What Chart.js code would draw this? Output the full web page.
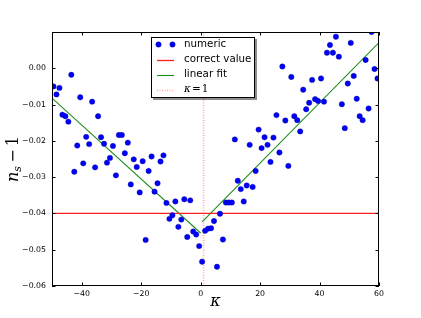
<!DOCTYPE html>
<html>
<head>
<meta charset="utf-8">
<script src="https://cdn.jsdelivr.net/npm/chart.js@4"></script>
<style>
  html, body { margin: 0; padding: 0; background: #fff; }
  canvas { display: block; }
</style>
</head>
<body>
<canvas id="chart" width="421" height="318"></canvas>
<script>
// values
const kappa = [
  -49.5, -48.5, -47.5, -46.5, -45.5, -44.5, -43.5, -42.5, -41.5, -40.5,
  -39.5, -38.5, -37.5, -36.5, -35.5, -34.5, -33.5, -32.5, -31.5, -30.5,
  -29.5, -28.5, -27.5, -26.5, -25.5, -24.5, -23.5, -22.5, -21.5, -20.5,
  -19.5, -18.5, -17.5, -16.5, -15.5, -14.5, -13.5, -12.5, -11.5, -10.5,
  -9.5, -8.5, -7.5, -6.5, -5.5, -4.5, -3.5, -2.5, -1.5, -0.5,
  0.5, 1.5, 2.5, 3.5, 4.5, 5.5, 6.5, 7.5, 8.5, 9.5,
  10.5, 11.5, 12.5, 13.5, 14.5, 15.5, 16.5, 17.5, 18.5, 19.5,
  20.5, 21.5, 22.5, 23.5, 24.5, 25.5, 26.5, 27.5, 28.5, 29.5,
  30.5, 31.5, 32.5, 33.5, 34.5, 35.5, 36.5, 37.5, 38.5, 39.5,
  40.5, 41.5, 42.5, 43.5, 44.5, 45.5, 46.5, 47.5, 48.5, 49.5,
  50.5, 51.5, 52.5, 53.5, 54.5, 55.5, 56.5, 57.5, 58.5, 59.5
];
const nsMinusOne = [
  -0.0050, -0.0072, -0.0054, -0.0128, -0.0132, -0.0147, -0.0018, -0.0285, -0.0213, -0.0080,
  -0.0262, -0.0189, -0.0209, -0.0092, -0.0273, -0.0132, -0.0190, -0.0208, -0.0260, -0.0247,
  -0.0214, -0.0295, -0.0184, -0.0184, -0.0234, -0.0205, -0.0320, -0.0251, -0.0272, -0.0342,
  -0.0256, -0.0473, -0.0283, -0.0243, -0.0340, -0.0317, -0.0257, -0.0240, -0.0371, -0.0415,
  -0.0405, -0.0367, -0.0437, -0.0417, -0.0361, -0.0465, -0.0364, -0.0450, -0.0458, -0.0490,
  -0.0533, -0.0448, -0.0442, -0.0441, -0.0421, -0.0547, -0.0401, -0.0472, -0.0370, -0.0370,
  -0.0370, -0.0196, -0.0310, -0.0333, -0.0367, -0.0323, -0.0211, -0.0327, -0.0283, -0.0169,
  -0.0220, -0.0190, -0.0211, -0.0258, -0.0191, -0.0129, -0.0232, 0.0005, -0.0144, -0.0269,
  -0.0024, -0.0132, -0.0143, -0.0174, -0.0059, -0.0113, -0.0095, -0.0032, -0.0085, -0.0090,
  -0.0028, -0.0092, 0.0043, 0.0064, 0.0043, 0.0087, 0.0032, -0.0099, -0.0165, -0.0042,
  0.0070, -0.0021, -0.0084, -0.0132, -0.0143, 0.0023, -0.0111, 0.0100, -0.0002, -0.0028
];
const fitLeftX = [-50, 0];
const fitLeftY = [-0.0082, -0.0454];
const fitRightX = [0.5, 60];
const fitRightY = [-0.0423, 0.0071];
const correctValue = -0.04;
const kappaMark = 1;
const xRange = [-50, 60];
const yRange = [-0.06, 0.01];
const xTicks = [-40, -20, 0, 20, 40, 60];
const yTicks = [-0.06, -0.05, -0.04, -0.03, -0.02, -0.01, 0.00, 0.01];

const pts = (xs, ys) => xs.map((x, i) => ({ x: x, y: ys[i] }));
const minus = (s) => s.replace('-', '\u2212');

// frame, inward ticks, axis titles and the boxed legend
const decor = {
  id: 'decor',
  afterDatasetsDraw(chart) {
    const { ctx, chartArea: a, scales: { x, y } } = chart;
    ctx.save();
    ctx.strokeStyle = '#000';
    ctx.lineWidth = 1;
    ctx.beginPath();
    xTicks.forEach(v => {
      const px = Math.round(x.getPixelForValue(v)) + 0.5;
      ctx.moveTo(px, a.bottom); ctx.lineTo(px, a.bottom - 3.5);
      ctx.moveTo(px, a.top); ctx.lineTo(px, a.top + 3.5);
    });
    yTicks.forEach(v => {
      const py = Math.round(y.getPixelForValue(v)) + 0.5;
      ctx.moveTo(a.left, py); ctx.lineTo(a.left + 3.5, py);
      ctx.moveTo(a.right, py); ctx.lineTo(a.right - 3.5, py);
    });
    ctx.stroke();
    ctx.strokeRect(a.left + 0.5, a.top + 0.5, a.right - a.left - 1, a.bottom - a.top - 1);
    ctx.restore();
  },
  afterDraw(chart) {
    const { ctx, chartArea: a } = chart;
    ctx.save();
    ctx.fillStyle = '#000';
    ctx.textBaseline = 'alphabetic';

    // x title
    ctx.font = 'italic 16px "DejaVu Serif"';
    ctx.textAlign = 'center';
    ctx.fillText('\u03ba', (a.left + a.right) / 2, 306);

    // y title: n_s - 1
    ctx.translate(18, (a.top + a.bottom) / 2);
    ctx.rotate(-Math.PI / 2);
    ctx.textAlign = 'left';
    const big = 'italic 16px "DejaVu Serif"', small = 'italic 11px "DejaVu Serif"', reg = '16px "DejaVu Serif"';
    ctx.font = big; const wn = ctx.measureText('n').width;
    ctx.font = small; const ws = ctx.measureText('s').width;
    ctx.font = reg; const wr = ctx.measureText('\u2009\u2212\u20091').width;
    let cx = -(wn + ws + wr) / 2;
    ctx.font = big; ctx.fillText('n', cx, 0); cx += wn;
    ctx.font = small; ctx.fillText('s', cx, 3); cx += ws;
    ctx.font = reg; ctx.fillText('\u2009\u2212\u20091', cx, 0);
    ctx.restore();

    // legend
    const bx = 151, by = 37, bw = 104, bh = 61;
    ctx.save();
    ctx.fillStyle = 'rgba(0,0,0,0.45)';
    ctx.fillRect(bx + 2, by + 2, bw, bh);
    ctx.fillStyle = '#fff';
    ctx.fillRect(bx, by, bw, bh);
    ctx.strokeStyle = '#000';
    ctx.lineWidth = 1;
    ctx.strokeRect(bx + 0.5, by + 0.5, bw - 1, bh - 1);
    const items = chart.data.datasets.filter(d => d.label);
    items.forEach((d, i) => {
      const ry = 44.5 + i * 15;
      if (d.showLine === false) {
        [158.5, 172.5].forEach(px => {
          ctx.beginPath();
          ctx.arc(px, ry, d.pointRadius, 0, Math.PI * 2);
          ctx.fillStyle = d.backgroundColor;
          ctx.fill();
          ctx.lineWidth = d.borderWidth;
          ctx.strokeStyle = d.borderColor;
          ctx.stroke();
        });
      } else {
        ctx.beginPath();
        ctx.setLineDash(d.borderDash || []);
        ctx.strokeStyle = d.borderColor;
        ctx.lineWidth = d.borderWidth;
        ctx.moveTo(157, Math.round(ry) + 0.5); ctx.lineTo(174, Math.round(ry) + 0.5);
        ctx.stroke();
        ctx.setLineDash([]);
      }
      ctx.fillStyle = '#000';
      ctx.textAlign = 'left';
      ctx.textBaseline = 'middle';
      if (d.label === 'kappa=1') {
        let tx = 184;
        ctx.font = 'italic 10.5px "DejaVu Serif"';
        ctx.fillText('\u03ba', tx, ry); tx += ctx.measureText('\u03ba').width + 1;
        ctx.font = '10.5px "DejaVu Serif"';
        ctx.fillText('=', tx, ry); tx += ctx.measureText('=').width + 1;
        ctx.fillText('1', tx, ry);
      } else {
        ctx.font = '10.3px "DejaVu Sans"';
        ctx.fillText(d.label, 184, ry);
      }
    });
    ctx.restore();
  }
};

new Chart(document.getElementById('chart'), {
  type: 'scatter',
  data: {
    datasets: [
      {
        label: 'numeric',
        data: pts(kappa, nsMinusOne),
        showLine: false,
        pointRadius: 2.7,
        backgroundColor: '#0000ff',
        borderColor: '#00008a',
        borderWidth: 0.4,
        clip: 0,
        order: 0
      },
      {
        label: 'correct value',
        data: pts(xRange, [correctValue, correctValue]),
        showLine: true,
        pointRadius: 0,
        borderColor: '#ff2020',
        borderWidth: 1.3,
        clip: 0,
        order: 1
      },
      {
        label: 'linear fit',
        data: pts(fitLeftX, fitLeftY),
        showLine: true,
        pointRadius: 0,
        borderColor: '#1a8c1a',
        borderWidth: 1.1,
        clip: 0,
        order: 1
      },
      {
        data: pts(fitRightX, fitRightY),
        showLine: true,
        pointRadius: 0,
        borderColor: '#1a8c1a',
        borderWidth: 1.1,
        clip: 0,
        order: 1
      },
      {
        label: 'kappa=1',
        data: pts([kappaMark, kappaMark], yRange),
        showLine: true,
        pointRadius: 0,
        borderColor: 'rgba(255,60,60,0.45)',
        borderWidth: 1.6,
        borderDash: [1, 1.5],
        clip: 0,
        order: 2
      }
    ]
  },
  options: {
    responsive: false,
    animation: false,
    layout: { padding: { top: 32, right: 42, left: 0, bottom: 0 } },
    plugins: { legend: { display: false }, tooltip: { enabled: false } },
    scales: {
      x: {
        type: 'linear',
        min: xRange[0],
        max: xRange[1],
        grid: { display: false, drawTicks: false },
        border: { display: false },
        afterBuildTicks: s => { s.ticks = xTicks.map(v => ({ value: v })); },
        afterFit: s => { s.height = 32; },
        ticks: {
          padding: 3,
          maxRotation: 0,
          color: '#000',
          font: { family: 'DejaVu Sans', size: 7.8 },
          callback: v => minus(String(v))
        }
      },
      y: {
        type: 'linear',
        min: yRange[0],
        max: yRange[1],
        grid: { display: false, drawTicks: false },
        border: { display: false },
        afterBuildTicks: s => { s.ticks = yTicks.map(v => ({ value: v })); },
        afterFit: s => { s.width = 52; },
        ticks: {
          padding: 6,
          color: '#000',
          font: { family: 'DejaVu Sans', size: 7.8 },
          callback: v => Math.abs(v - 0.01) < 1e-9 ? '' : minus(v.toFixed(2))
        }
      }
    }
  },
  plugins: [decor]
});
</script>
</body>
</html>
